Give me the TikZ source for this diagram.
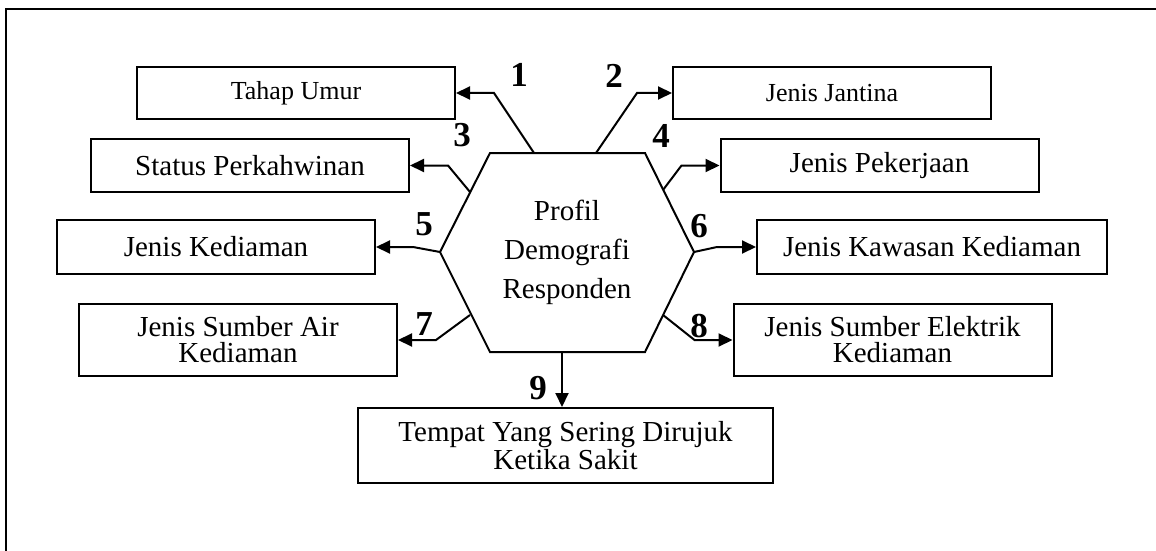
\documentclass[tikz,border=0pt]{standalone}
\usepackage{fontspec}
\setmainfont{Liberation Serif}
\usepackage{tikz}
\usetikzlibrary{
	arrows.meta,
	calc,
	% positioning,
	% shapes,
}
\tikzstyle{arrow} = [line width=1pt,-{Triangle[length=7pt,width=6.5pt]}]
\tikzstyle{box} = [draw, line width=1pt, minimum width=159pt, inner sep=0pt, align=center, font=\fontsize{14.5}{13}\selectfont]
\tikzstyle{num} = [inner sep=0pt, font=\fontsize{17.5}{17.5}\selectfont\bfseries]

\begin{document}
\begin{tikzpicture}[x=0.5pt, y=-0.5pt]
	\useasboundingbox (0,0) rectangle (1156,551);
	% outer frame
	\draw[line width=1pt] (6,570) -- (6,9) -- (1170,9);

	% hexagon in the middle
	\coordinate (tl) at (490,153);
	\coordinate (tr) at (645,153);
	\coordinate (rv) at (694,252);
	\coordinate (br) at (645,352);
	\coordinate (bl) at (490,352);
	\coordinate (lv) at (440,252);
	\draw[line width=1pt] (tl) -- (tr) -- (rv) -- (br) -- (bl) -- (lv) -- cycle;
	\node[align=center, font=\fontsize{14.5}{19.5}\selectfont] (profil) at (567,252) {Profil\\Demografi\\Responden};

	% boxes
	\node[box, minimum height=26pt, font=\fontsize{13}{13}\selectfont] (tahap) at (296,93) {Tahap Umur};
	\node[box, minimum height=26pt, font=\fontsize{13}{13}\selectfont] (jantina) at (832,93) {Jenis Jantina};
	\node[box, minimum height=26.5pt] (status) at (250,165.5) {Status Perkahwinan};
	\node[box, minimum height=26.5pt] (pekerjaan) at (879.5,165.5) {Jenis Pekerjaan};
	\node[box, minimum height=27pt] (kediaman) at (216,247) {Jenis Kediaman};
	\node[box, minimum height=27pt, minimum width=175pt] (kawasan) at (932,247) {Jenis Kawasan Kediaman};
	\node[box, minimum height=36pt] (air) at (238,340) {Jenis Sumber Air\\Kediaman};
	\node[box, minimum height=36pt] (elektrik) at (892.5,340) {Jenis Sumber Elektrik\\Kediaman};
	\node[box, minimum height=37.5pt, minimum width=207.5pt] (tempat) at (565.5,445.5) {Tempat Yang Sering Dirujuk\\Ketika Sakit};

	% start points on the hexagon
	\foreach \n/\x/\y in {1/534/153, 2/596/153, 3/470/192, 4/663/190, 7/470/315, 8/663/315, 9/562/352}
		\coordinate (s\n) at (\x,\y);
	\coordinate (s5) at (lv);
	\coordinate (s6) at (rv);

	% connectors
	\foreach \s/\a/\dx in {s1/tahap.east/38, s2/jantina.west/-35, s3/status.east/38, s4/pekerjaan.west/-38,
			s5/kediaman.east/37, s6/kawasan.west/-39, s7/air.east/38, s8/elektrik.west/-38}
		\draw[arrow] (\s) -- ($(\a)+(\dx,0)$) -- (\a);
	\draw[arrow] (s9) -- (s9 |- tempat.north);

	% numbers
	\foreach \i/\x/\y in {1/519/75, 2/614/76, 3/462/135, 4/661/136, 5/424/224, 6/699/226, 7/424/324, 8/699/326, 9/538/388}
		\node[num] (n\i) at (\x,\y) {\i};

\end{tikzpicture}
\end{document}
